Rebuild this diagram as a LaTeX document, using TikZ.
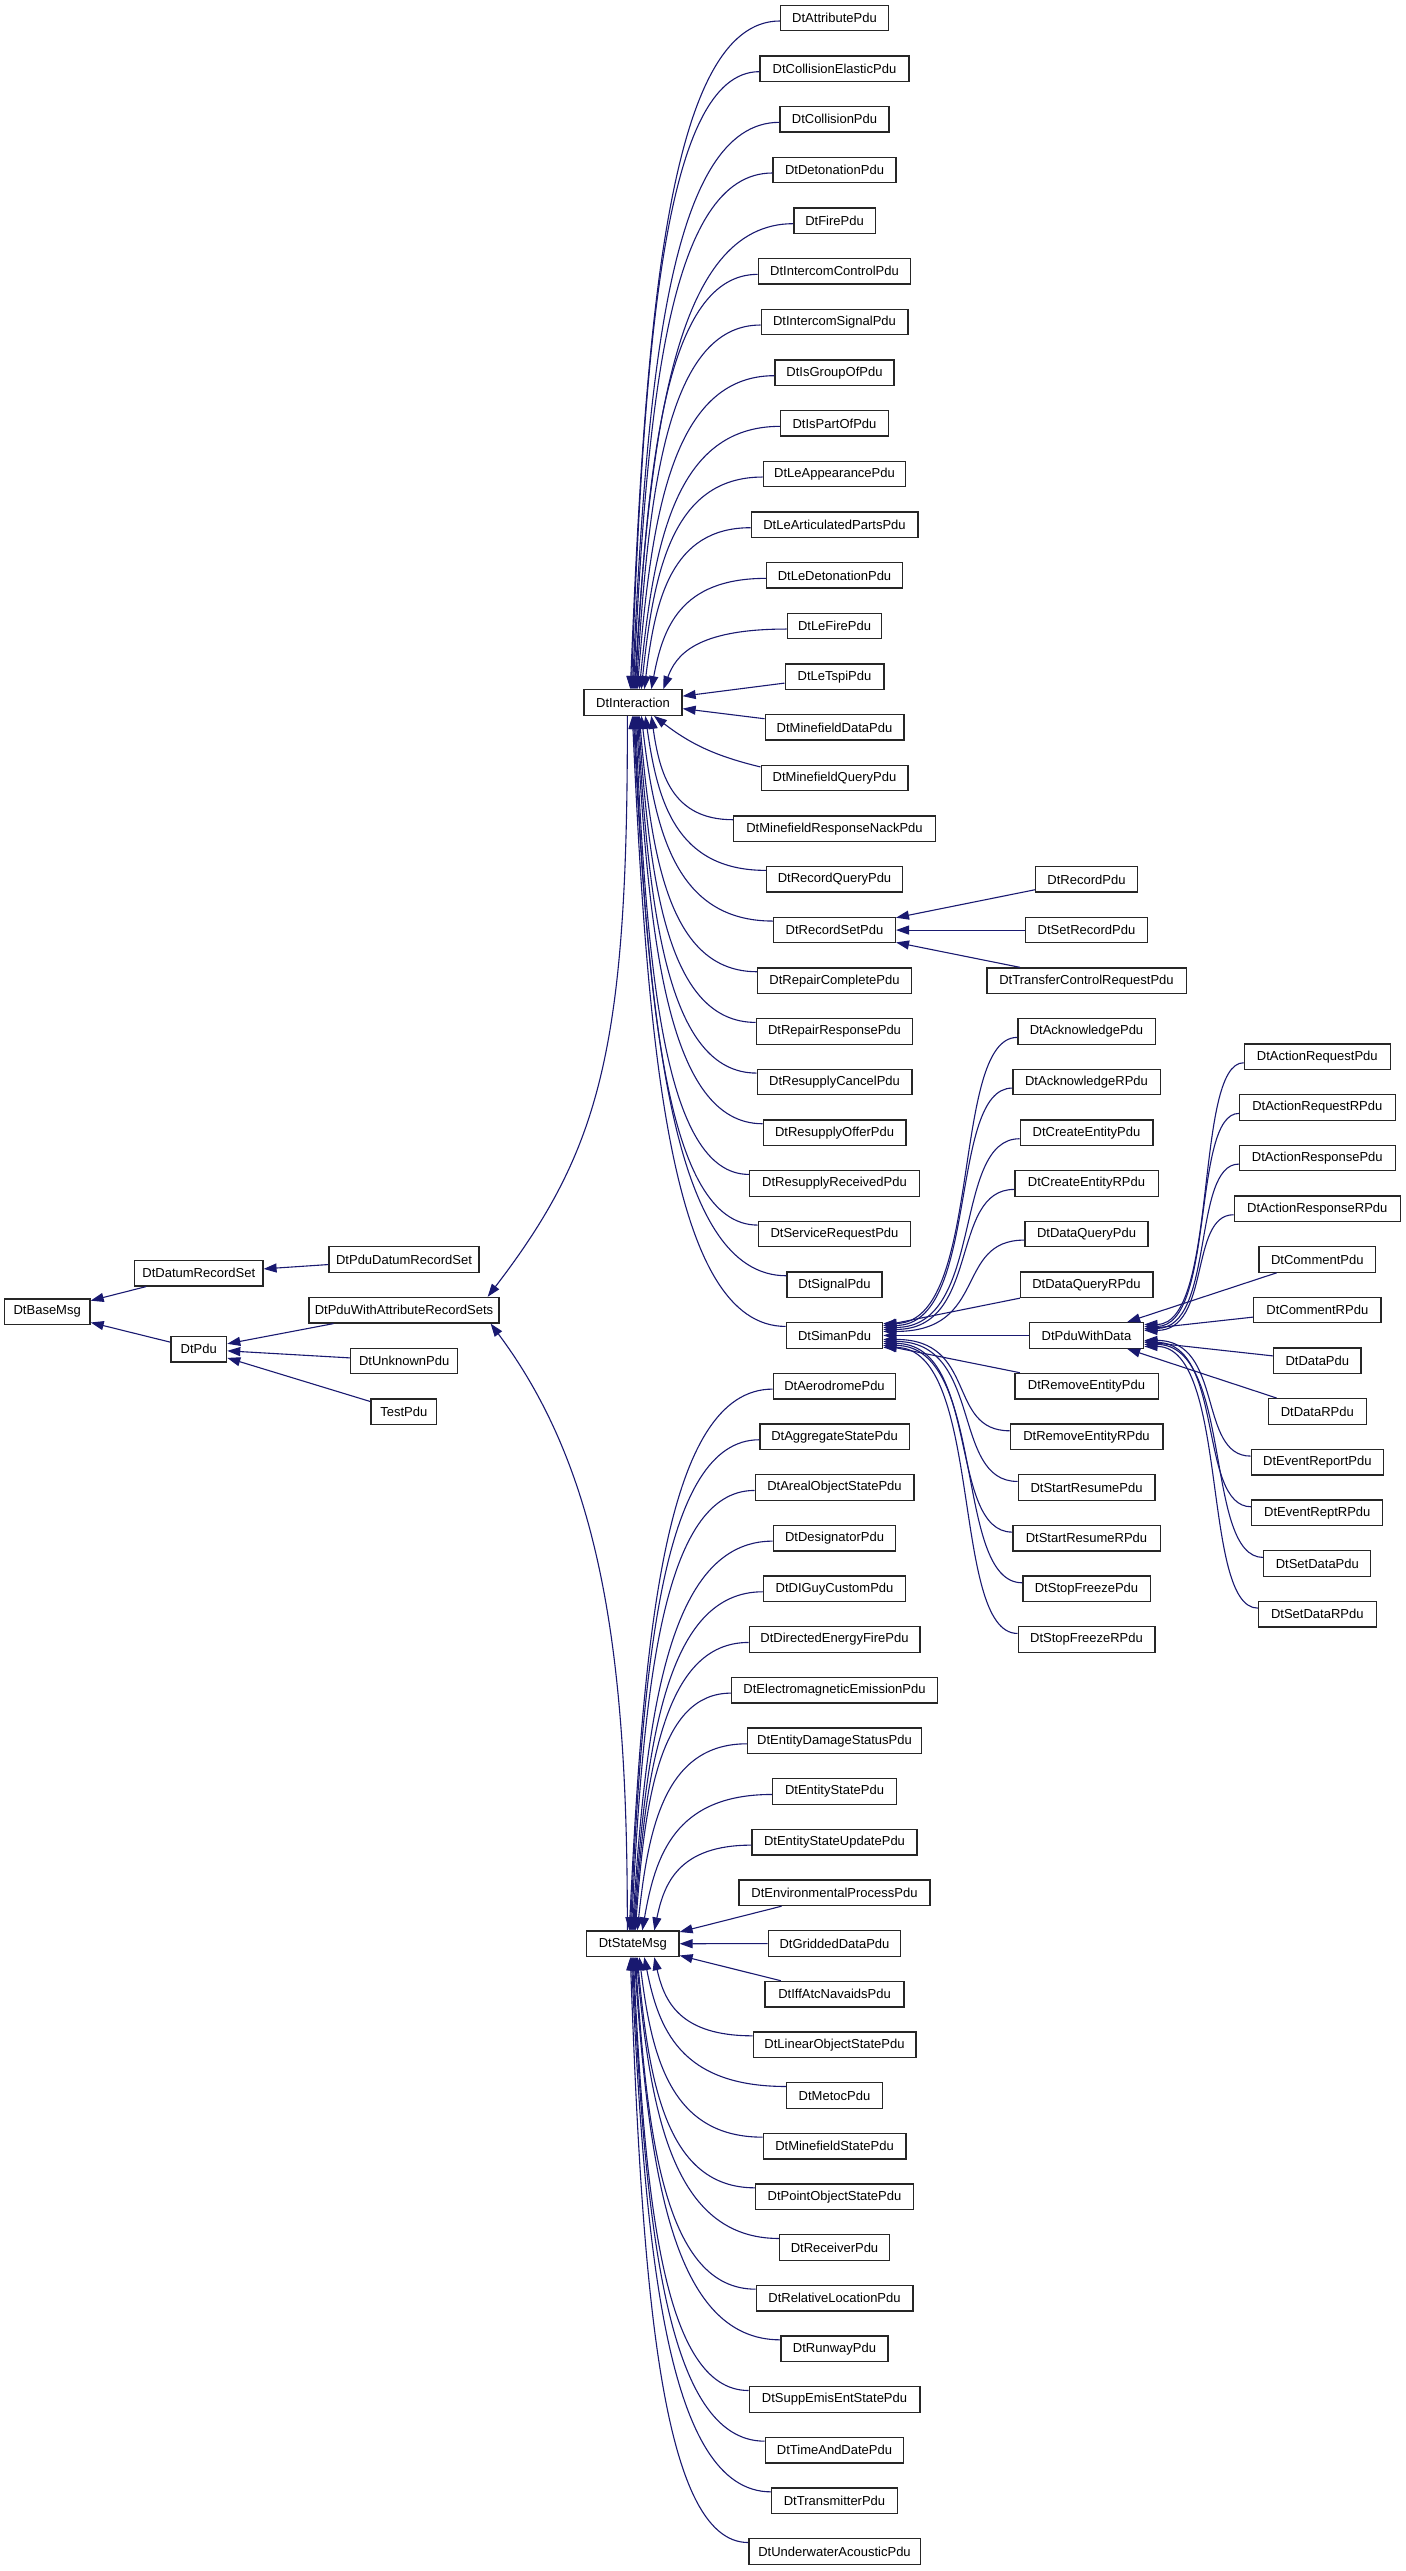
\documentclass[tikz,border=0pt]{standalone}
\usepackage{fontspec}
\setmainfont{Liberation Sans}
\usetikzlibrary{arrows.meta,calc}
\definecolor{edgeblue}{HTML}{191970}
\tikzset{
  box/.style={draw=black!85, line width=1.3pt, fill=white, rectangle, inner sep=0pt,
    minimum height=25.5pt, font=\fontsize{13pt}{15pt}\selectfont, text=black},
  arr/.style={draw=edgeblue, line width=1.1pt, arrows={Triangle[length=13pt,width=9pt,fill=edgeblue]-}},
}
\newcommand\vedge[2]{\draw[arr] let \p1=(#1),\p2=(#2) in (\p1) .. controls ({\x1+0.1*(\x2-\x1)},{\y1+0.55*(\y2-\y1)}) and ({\x2-0.75*(\x2-\x1)},\y2) .. (\p2);}
\newcommand\sedge[2]{\draw[arr] let \p1=(#1),\p2=(#2) in (\p1) .. controls ({\x1+0.75*(\x2-\x1)},\y1) and ({\x1+0.5*(\x2-\x1)},\y2) .. (\p2);}
\begin{document}
\begin{tikzpicture}[x=1pt,y=-1pt]
\fill[white] (0,0) rectangle (1405,2571);
\useasboundingbox (0,0) rectangle (1405,2571);

% left part
\node[box,minimum width=85.7pt] (base) at (47.2,1311.7) {DtBaseMsg};
\node[box,minimum width=128.3pt] (datum) at (198.8,1273.2) {DtDatumRecordSet};
\node[box,minimum width=55.7pt] (pdu) at (198.8,1349.2) {DtPdu};
\node[box,minimum width=150pt] (pdudatum) at (404,1259.5) {DtPduDatumRecordSet};
\node[box,minimum width=190pt] (pwars) at (404,1310.2) {DtPduWithAttributeRecordSets};
\node[box,minimum width=107pt] (unknown) at (404.2,1361) {DtUnknownPdu};
\node[box,minimum width=65.7pt] (test) at (403.8,1411.7) {TestPdu};
\node[box,minimum width=98pt] (inter) at (633,702.5) {DtInteraction};
\node[box,minimum width=92.3pt] (state) at (632.8,1943.8) {DtStateMsg};

% middle column
\foreach \r/\w/\t in {
 1/108/DtAttributePdu, 2/149/DtCollisionElasticPdu, 3/109/DtCollisionPdu,
 4/123/DtDetonationPdu, 5/81.3/DtFirePdu, 6/152.3/DtIntercomControlPdu,
 7/146.7/DtIntercomSignalPdu, 8/119/DtIsGroupOfPdu, 9/108/DtIsPartOfPdu,
 10/142.3/DtLeAppearancePdu, 11/166.7/DtLeArticulatedPartsPdu, 12/136/DtLeDetonationPdu,
 13/94.3/DtLeFirePdu, 14/98.7/DtLeTspiPdu, 15/138.7/DtMinefieldDataPdu,
 16/146.7/DtMinefieldQueryPdu, 17/201.7/DtMinefieldResponseNackPdu, 18/135.7/DtRecordQueryPdu,
 19/121.7/DtRecordSetPdu, 20/153.7/DtRepairCompletePdu, 21/156.3/DtRepairResponsePdu,
 22/154.7/DtResupplyCancelPdu, 23/142.7/DtResupplyOfferPdu, 24/170/DtResupplyReceivedPdu,
 25/152.3/DtServiceRequestPdu, 26/95/DtSignalPdu, 27/96.3/DtSimanPdu,
 28/122.3/DtAerodromePdu, 29/149.3/DtAggregateStatePdu, 30/158.7/DtArealObjectStatePdu,
 31/122.3/DtDesignatorPdu, 32/142.3/DtDIGuyCustomPdu, 33/170.7/DtDirectedEnergyFirePdu,
 34/205.7/DtElectromagneticEmissionPdu, 35/174/DtEntityDamageStatusPdu, 36/124/DtEntityStatePdu,
 37/165/DtEntityStateUpdatePdu, 38/191/DtEnvironmentalProcessPdu, 39/132.3/DtGriddedDataPdu,
 40/139/DtIffAtcNavaidsPdu, 41/162.7/DtLinearObjectStatePdu, 42/95.7/DtMetocPdu,
 43/142.7/DtMinefieldStatePdu, 44/158/DtPointObjectStatePdu, 45/109.7/DtReceiverPdu,
 46/156.7/DtRelativeLocationPdu, 47/107/DtRunwayPdu, 48/170.7/DtSuppEmisEntStatePdu,
 49/138.3/DtTimeAndDatePdu, 50/125.7/DtTransmitterPdu, 51/171.3/DtUnderwaterAcousticPdu}
 \node[box,minimum width=\w pt] (c\r) at (834.5,{18+(\r-1)*50.67}) {\t};

% right column
\foreach \r/\w/\t in {
 18/101.7/DtRecordPdu, 19/121.7/DtSetRecordPdu, 20/199.3/DtTransferControlRequestPdu,
 21/137.3/DtAcknowledgePdu, 22/147.3/DtAcknowledgeRPdu, 23/132.7/DtCreateEntityPdu,
 24/143.3/DtCreateEntityRPdu, 25/123/DtDataQueryPdu, 26/132.7/DtDataQueryRPdu,
 27/114.3/DtPduWithData, 28/143.3/DtRemoveEntityPdu, 29/152.7/DtRemoveEntityRPdu,
 30/136.7/DtStartResumePdu, 31/147.3/DtStartResumeRPdu, 32/127.3/DtStopFreezePdu,
 33/136.7/DtStopFreezeRPdu}
 \node[box,minimum width=\w pt] (r\r) at (1086.5,{18+(\r-1)*50.67}) {\t};

% far right column
\foreach \i/\r/\w/\t in {
 1/21.5/146/DtActionRequestPdu, 2/22.5/155.7/DtActionRequestRPdu, 3/23.5/155.7/DtActionResponsePdu,
 4/24.5/166.3/DtActionResponseRPdu, 5/25.5/116.7/DtCommentPdu, 6/26.5/127.3/DtCommentRPdu,
 7/27.5/87.3/DtDataPdu, 8/28.5/97.7/DtDataRPdu, 9/29.5/132/DtEventReportPdu,
 10/30.5/131/DtEventReptRPdu, 11/31.5/107/DtSetDataPdu, 12/32.5/117.7/DtSetDataRPdu}
 \node[box,minimum width=\w pt] (w\i) at (1317.3,{18+(\r-1)*50.67}) {\t};

% left edges
\draw[arr] (base) -- (datum);
\draw[arr] (base) -- (pdu);
\draw[arr] (datum) -- (pdudatum);
\draw[arr] (pdu) -- (pwars);
\draw[arr] (pdu) -- (unknown);
\draw[arr] (pdu) -- (test);
\draw[arr] ([xshift=-12pt]pwars.north east) .. controls (600,1150) and (628,1050) .. ([xshift=44pt]inter.south west);
\draw[arr] ([xshift=-9pt]pwars.south east) .. controls (600,1470) and (628,1650) .. ([xshift=41.3pt]state.north west);

% DtInteraction children
\foreach \r/\s in {1/47,2/48,3/49,4/50,5/51,6/52,7/53,8/54,9/56,10/58,11/61,12/68,13/80}
 {\vedge{[xshift=\s pt]inter.north west}{[yshift=-3pt]c\r.west}}
\draw[arr] (inter) -- (c14);
\draw[arr] (inter) -- (c15);
\draw[arr] (inter) to[bend right=12] (c16);
\foreach \r/\s in {17/68,18/62,19/58,20/56,21/55,22/54,23/53,24/52,25/51,26/50,27/49}
 {\vedge{[xshift=\s pt]inter.south west}{[yshift=9pt]c\r.west}}

% DtStateMsg children
\foreach \r/\s in {28/43.3,29/44.3,30/45.3,31/46.3,32/47.3,33/48.3,34/49.3,35/51.3,36/56.3,37/68.3}
 {\vedge{[xshift=\s pt]state.north west}{[yshift=-3pt]c\r.west}}
\draw[arr] (state) -- (c38);
\draw[arr] (state) -- (c39);
\draw[arr] (state) -- (c40);
\foreach \r/\s in {41/68.3,42/58.3,43/53.3,44/51.3,45/50.3,46/49.3,47/48.3,48/47.3,49/46.3,50/45.3,51/44.3}
 {\vedge{[xshift=\s pt]state.south west}{[yshift=9pt]c\r.west}}

% DtRecordSetPdu children
\draw[arr] (c19) -- (r18);
\draw[arr] (c19) -- (r19);
\draw[arr] (c19) -- (r20);

% DtSimanPdu children
\foreach \r/\o in {21/12,22/10,23/8,24/6,25/4}
 {\sedge{[yshift=\o pt]c27.east}{[yshift=-6pt]r\r.west}}
\draw[arr] (c27) -- (r26);
\draw[arr] (c27) -- (r27);
\draw[arr] (c27) -- (r28);
\foreach \r/\o in {29/-4,30/-6,31/-8,32/-10,33/-12}
 {\sedge{[yshift=\o pt]c27.east}{[yshift=6pt]r\r.west}}

% DtPduWithData children
\foreach \i/\o in {1/11,2/9,3/7,4/5}
 {\sedge{[yshift=\o pt]r27.east}{[yshift=-6pt]w\i.west}}
\draw[arr] (r27) -- (w5);
\draw[arr] (r27) -- (w6);
\draw[arr] (r27) -- (w7);
\draw[arr] (r27) -- (w8);
\foreach \i/\o in {9/-5,10/-7,11/-9,12/-11}
 {\sedge{[yshift=\o pt]r27.east}{[yshift=6pt]w\i.west}}
\end{tikzpicture}
\end{document}
